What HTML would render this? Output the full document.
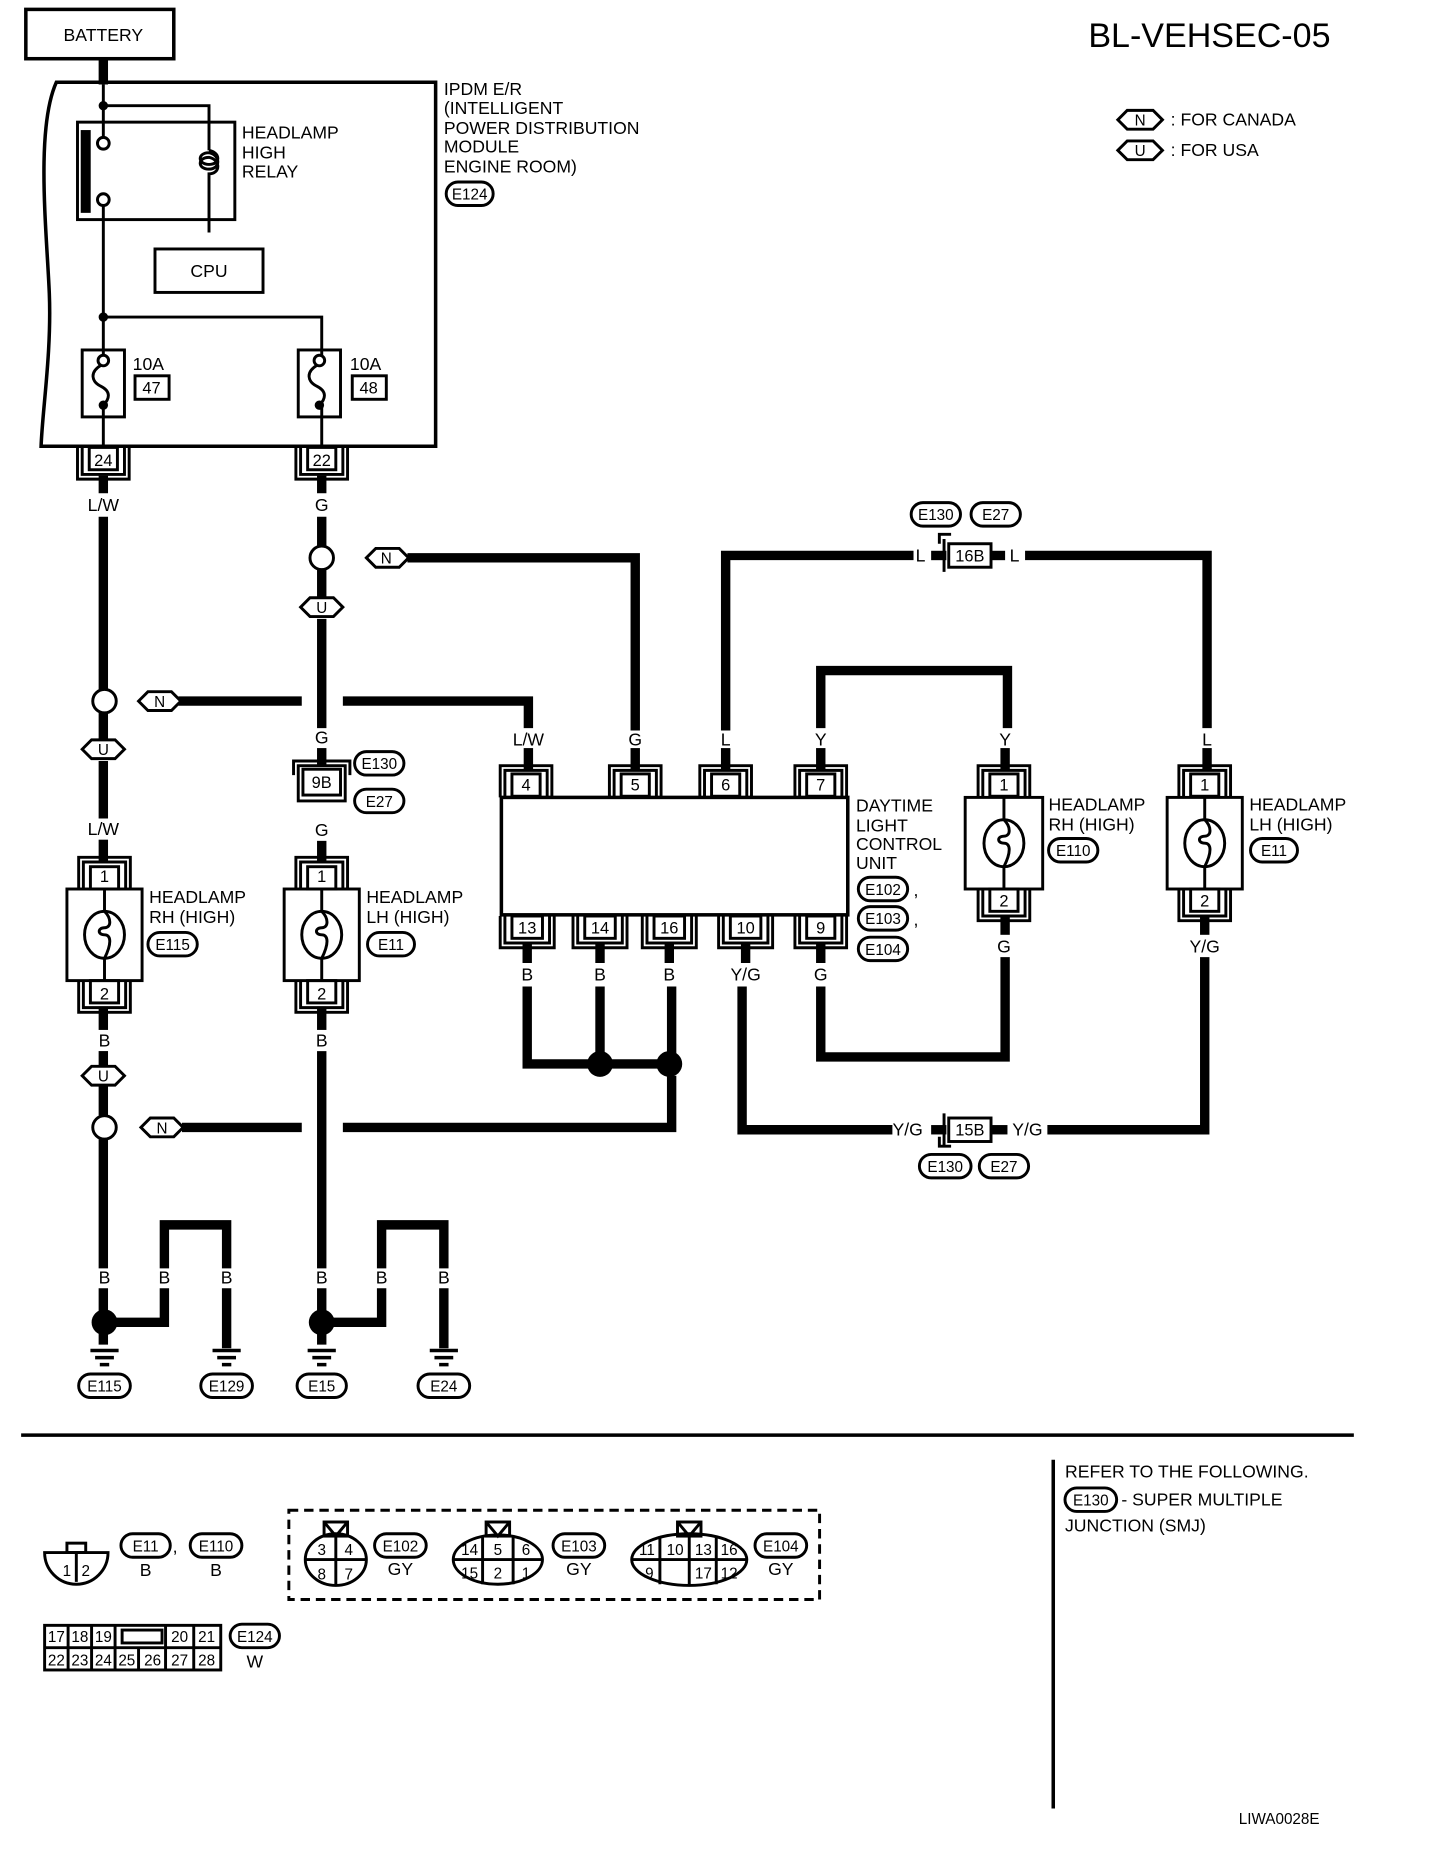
<!DOCTYPE html>
<html><head><meta charset="utf-8"><style>
html,body{margin:0;padding:0;background:#fff;}
svg{display:block;}
text{font-family:"Liberation Sans",sans-serif;fill:#000;}
</style></head><body>
<svg width="1456" height="1852" viewBox="0 0 1240 1577" preserveAspectRatio="none" xmlns="http://www.w3.org/2000/svg">
<g fill="none" stroke="#000">
<!-- battery -->
<rect x="22" y="8" width="126" height="42" stroke-width="3"/>
<line x1="88" y1="50" x2="88" y2="72" stroke-width="8"/>
<!-- IPDM -->
<path d="M371,70 H48 C30,110 40,200 42,250 C44,300 36,350 35,380 H371 Z" stroke-width="3"/>
<g stroke-width="2.5">
<line x1="88" y1="72" x2="88" y2="117"/>
<polyline points="88,90 178,90 178,128"/>
<rect x="66" y="104" width="134" height="83"/>
<rect x="70" y="112" width="6" height="68" fill="#000"/>
<circle cx="88" cy="122" r="5" fill="#fff"/>
<circle cx="88" cy="170" r="5" fill="#fff"/>
<path d="M178,128 c10,2 10,12 0,12 c-10,0 -10,-10 0,-10 c10,2 10,14 0,14 c-10,0 -10,-10 0,-10 c10,2 10,14 0,14 v50"/>
<line x1="88" y1="175" x2="88" y2="303"/>
<rect x="132" y="212" width="92" height="37"/>
<polyline points="88,270 274,270 274,303"/>
<rect x="70" y="298" width="36" height="57"/>
<rect x="254" y="298" width="36" height="57"/>
<circle cx="88" cy="307" r="4.5" fill="#fff"/>
<circle cx="272" cy="307" r="4.5" fill="#fff"/>
<path d="M86,311 c-10,6 -8,14 0,18 c8,4 8,10 2,16"/>
<path d="M270,311 c-10,6 -8,14 0,18 c8,4 8,10 2,16"/>
<line x1="88" y1="345" x2="88" y2="380"/>
<line x1="274" y1="345" x2="274" y2="380"/>
<rect x="115" y="320" width="29" height="20"/>
<rect x="300" y="320" width="29" height="20"/>
</g>
<circle cx="88" cy="90" r="4" fill="#000" stroke="none"/>
<circle cx="88" cy="270" r="4" fill="#000" stroke="none"/>
<circle cx="88" cy="345" r="4" fill="#000" stroke="none"/>
<circle cx="272" cy="345" r="4" fill="#000" stroke="none"/>

<!-- thick wires -->
<g stroke-width="8" stroke-linecap="butt">
<line x1="88" y1="405" x2="88" y2="420"/>
<line x1="88" y1="440" x2="88" y2="587"/>
<line x1="274" y1="405" x2="274" y2="420"/>
<line x1="274" y1="440" x2="274" y2="465"/>
<polyline points="347,475 541,475 541,622"/>
<line x1="274" y1="485" x2="274" y2="508"/>
<line x1="274" y1="527" x2="274" y2="620"/>
<line x1="152" y1="597" x2="257" y2="597"/>
<polyline points="292,597 450,597 450,620"/>
<line x1="88" y1="607" x2="88" y2="630"/>
<line x1="88" y1="648" x2="88" y2="697"/>
<line x1="88" y1="715" x2="88" y2="735"/>
<line x1="274" y1="637" x2="274" y2="652"/>
<line x1="274" y1="716" x2="274" y2="735"/>
<line x1="88" y1="857" x2="88" y2="877"/>
<line x1="88" y1="895" x2="88" y2="908"/>
<line x1="88" y1="925" x2="88" y2="950"/>
<line x1="155" y1="960" x2="257" y2="960"/>
<polyline points="292,960 572,960 572,916"/>
<line x1="88" y1="970" x2="88" y2="1080"/>
<line x1="88" y1="1097" x2="88" y2="1145"/>
<polyline points="88,1126 140,1126 140,1097"/>
<polyline points="140,1080 140,1043 193,1043 193,1080"/>
<line x1="193" y1="1097" x2="193" y2="1148"/>
<line x1="274" y1="857" x2="274" y2="877"/>
<line x1="274" y1="895" x2="274" y2="1080"/>
<line x1="274" y1="1097" x2="274" y2="1145"/>
<polyline points="274,1126 325,1126 325,1097"/>
<polyline points="325,1080 325,1043 378,1043 378,1080"/>
<line x1="378" y1="1097" x2="378" y2="1148"/>
<!-- DLCU -->
<line x1="450" y1="637" x2="450" y2="655"/>
<line x1="541" y1="637" x2="541" y2="655"/>
<line x1="618" y1="637" x2="618" y2="655"/>
<line x1="699" y1="637" x2="699" y2="655"/>
<polyline points="618,622 618,473 778,473"/>
<line x1="793" y1="473" x2="806" y2="473"/>
<line x1="845" y1="473" x2="856" y2="473"/>
<polyline points="873,473 1028,473 1028,620"/>
<polyline points="699,620 699,571 858,571 858,620"/>
<line x1="856" y1="637" x2="856" y2="655"/>
<line x1="1028" y1="637" x2="1028" y2="655"/>
<line x1="449" y1="803" x2="449" y2="820"/>
<line x1="511" y1="803" x2="511" y2="820"/>
<line x1="570" y1="803" x2="570" y2="820"/>
<line x1="635" y1="803" x2="635" y2="820"/>
<line x1="699" y1="803" x2="699" y2="820"/>
<polyline points="449,840 449,906 573,906"/>
<line x1="511" y1="840" x2="511" y2="906"/>
<line x1="572" y1="840" x2="572" y2="906"/>
<polyline points="699,840 699,900 856,900 856,815"/>
<line x1="856" y1="779" x2="856" y2="796"/>
<polyline points="632,840 632,962 760,962"/>
<line x1="793" y1="962" x2="806" y2="962"/>
<line x1="845" y1="962" x2="858" y2="962"/>
<polyline points="892,962 1026,962 1026,815"/>
<line x1="1026" y1="779" x2="1026" y2="796"/>
</g>
<!-- dots -->
<g fill="#000" stroke="none">
<circle cx="511" cy="906" r="11"/><circle cx="570" cy="906" r="11"/>
<circle cx="89" cy="1126" r="11"/><circle cx="274" cy="1126" r="11"/>
</g>
<!-- open circles -->
<g stroke-width="2.5" fill="#fff">
<circle cx="274" cy="475" r="10"/>
<circle cx="89" cy="597" r="10"/>
<circle cx="89" cy="960" r="10"/>
</g>
<!-- ground symbols -->
<g stroke-width="3">
<path d="M77,1150h24M81,1156h16M85,1162h8"/>
<path d="M181,1150h24M185,1156h16M189,1162h8"/>
<path d="M262,1150h24M266,1156h16M270,1162h8"/>
<path d="M366,1150h24M370,1156h16M374,1162h8"/>
</g>
<!-- tags -->
<g stroke-width="2.5" fill="#fff">
<polygon points="312,475 320,467 340,467 348,475 340,483 320,483"/>
<polygon points="256,517 264,509 284,509 292,517 284,525 264,525"/>
<polygon points="118,597 126,589 146,589 154,597 146,605 126,605"/>
<polygon points="70,638 78,630 98,630 106,638 98,646 78,646"/>
<polygon points="70,916 78,908 98,908 106,916 98,924 78,924"/>
<polygon points="120,960 128,952 148,952 156,960 148,968 128,968"/>
<polygon points="952,102 960,94 982,94 990,102 982,110 960,110"/>
<polygon points="952,128 960,120 982,120 990,128 982,136 960,136"/>
</g>
<!-- terminals helper: top-type (bracket opens down) -->
<g stroke-width="2.5">
<!-- IPDM 24,22 (bottom) -->
<rect x="76" y="381" width="24" height="19"/><path d="M70,381v23h36v-23M66,381v27h44v-27"/>
<rect x="262" y="381" width="24" height="19"/><path d="M256,381v23h36v-23M252,381v27h44v-27"/>
<!-- 9B -->
<rect x="258" y="655" width="32" height="22"/><path d="M254,652h40v30h-40zM250,660v-12h48v12"/>
<!-- 16B / 15B -->
<rect x="808" y="463" width="36" height="20"/><path d="M804,459v28M800,463v-8h10"/>
<rect x="808" y="952" width="36" height="20"/><path d="M804,948v28M800,968v8h10"/>
<!-- headlamp left RH -->
<rect x="77" y="738" width="24" height="19"/><path d="M71,757v-23h36v23M67,757v-27h44v27"/>
<rect x="57" y="757" width="64" height="78"/>
<line x1="89" y1="757" x2="89" y2="835"/>
<ellipse cx="89" cy="796" rx="17" ry="20" fill="#fff"/>
<path d="M89,776c6,6 6,14 0,14c-6,0 -6,6 0,6c6,0 6,8 0,20"/>
<rect x="77" y="835" width="24" height="19"/><path d="M71,835v23h36v-23M67,835v27h44v-27"/>
<!-- headlamp left LH -->
<rect x="262" y="738" width="24" height="19"/><path d="M256,757v-23h36v23M252,757v-27h44v27"/>
<rect x="242" y="757" width="64" height="78"/>
<line x1="274" y1="757" x2="274" y2="835"/>
<ellipse cx="274" cy="796" rx="17" ry="20" fill="#fff"/>
<path d="M274,776c6,6 6,14 0,14c-6,0 -6,6 0,6c6,0 6,8 0,20"/>
<rect x="262" y="835" width="24" height="19"/><path d="M256,835v23h36v-23M252,835v27h44v-27"/>
<!-- headlamp right RH -->
<rect x="843" y="659" width="24" height="19"/><path d="M837,679v-23h36v23M833,679v-27h44v27"/>
<rect x="822" y="679" width="66" height="78"/>
<line x1="855" y1="679" x2="855" y2="757"/>
<ellipse cx="855" cy="718" rx="17" ry="20" fill="#fff"/>
<path d="M855,698c6,6 6,14 0,14c-6,0 -6,6 0,6c6,0 6,8 0,20"/>
<rect x="843" y="757" width="24" height="19"/><path d="M837,757v23h36v-23M833,757v27h44v-27"/>
<!-- headlamp right LH -->
<rect x="1014" y="659" width="24" height="19"/><path d="M1008,679v-23h36v23M1004,679v-27h44v27"/>
<rect x="994" y="679" width="64" height="78"/>
<line x1="1026" y1="679" x2="1026" y2="757"/>
<ellipse cx="1026" cy="718" rx="17" ry="20" fill="#fff"/>
<path d="M1026,698c6,6 6,14 0,14c-6,0 -6,6 0,6c6,0 6,8 0,20"/>
<rect x="1014" y="757" width="24" height="19"/><path d="M1008,757v23h36v-23M1004,757v27h44v-27"/>
<!-- DLCU -->
<rect x="427" y="679" width="295" height="100" stroke-width="3"/>
<rect x="436" y="659" width="24" height="19"/><path d="M430,679v-23h36v23M426,679v-27h44v27"/>
<rect x="529" y="659" width="24" height="19"/><path d="M523,679v-23h36v23M519,679v-27h44v27"/>
<rect x="606" y="659" width="24" height="19"/><path d="M600,679v-23h36v23M596,679v-27h44v27"/>
<rect x="687" y="659" width="24" height="19"/><path d="M681,679v-23h36v23M677,679v-27h44v27"/>
<rect x="436" y="780" width="26" height="19"/><path d="M430,780v23h38v-23M426,780v27h46v-27"/>
<rect x="498" y="780" width="26" height="19"/><path d="M492,780v23h38v-23M488,780v27h46v-27"/>
<rect x="557" y="780" width="26" height="19"/><path d="M551,780v23h38v-23M547,780v27h46v-27"/>
<rect x="622" y="780" width="26" height="19"/><path d="M616,780v23h38v-23M612,780v27h46v-27"/>
<rect x="687" y="780" width="24" height="19"/><path d="M681,780v23h36v-23M677,780v27h44v-27"/>
</g>
<!-- ovals -->
<g stroke-width="2.5">
<rect x="380" y="155" width="40" height="20" rx="10"/>
<rect x="776" y="428" width="42" height="20" rx="10"/>
<rect x="827" y="428" width="42" height="20" rx="10"/>
<rect x="302" y="640" width="42" height="20" rx="10"/>
<rect x="302" y="672" width="42" height="20" rx="10"/>
<rect x="126" y="794" width="42" height="20" rx="10"/>
<rect x="313" y="794" width="40" height="20" rx="10"/>
<rect x="893" y="714" width="42" height="20" rx="10"/>
<rect x="1065" y="714" width="40" height="20" rx="10"/>
<rect x="731" y="747" width="42" height="20" rx="10"/>
<rect x="731" y="772" width="42" height="20" rx="10"/>
<rect x="731" y="798" width="42" height="20" rx="10"/>
<rect x="783" y="983" width="44" height="20" rx="10"/>
<rect x="834" y="983" width="42" height="20" rx="10"/>
<rect x="67" y="1170" width="44" height="20" rx="10"/>
<rect x="171" y="1170" width="44" height="20" rx="10"/>
<rect x="253" y="1170" width="42" height="20" rx="10"/>
<rect x="356" y="1170" width="44" height="20" rx="10"/>
<rect x="907" y="1267" width="44" height="20" rx="10"/>
<rect x="103" y="1306" width="42" height="20" rx="10"/>
<rect x="162" y="1306" width="44" height="20" rx="10"/>
<rect x="319" y="1306" width="44" height="20" rx="10"/>
<rect x="471" y="1306" width="44" height="20" rx="10"/>
<rect x="643" y="1306" width="44" height="20" rx="10"/>
<rect x="196" y="1383" width="42" height="20" rx="10"/>
</g>
<!-- separators -->
<line x1="18" y1="1222" x2="1153" y2="1222" stroke-width="3"/>
<line x1="897" y1="1243" x2="897" y2="1540" stroke-width="3"/>
<!-- bottom connectors -->
<g stroke-width="2.5">
<path d="M38,1322h54a27,27 0 0 1 -54,0z"/><line x1="65" y1="1322" x2="65" y2="1347"/>
<rect x="57" y="1314" width="16" height="8"/>
<rect x="246" y="1286" width="452" height="76" stroke-dasharray="8,5"/>
<ellipse cx="286" cy="1328" rx="26" ry="22"/><path d="M260,1328h52M286,1306v44"/><rect x="276" y="1296" width="20" height="12"/><path d="M276,1296l10,12l10,-12"/>
<ellipse cx="424" cy="1328" rx="38" ry="21"/><path d="M386,1328h76M411,1308v41M437,1308v41"/><rect x="414" y="1296" width="20" height="12"/><path d="M414,1296l10,12l10,-12"/>
<ellipse cx="587" cy="1328" rx="49" ry="22"/><path d="M538,1328h98M562,1308v41M587,1308v41M610,1308v41"/><rect x="577" y="1296" width="20" height="12"/><path d="M577,1296l10,12l10,-12"/>
<rect x="38" y="1384" width="150" height="38"/><path d="M38,1403h150M58,1384v38M78,1384v38M98,1384v19M98,1403v19M118,1403v19M141,1384v38M165,1384v38"/>
<rect x="104" y="1388" width="34" height="11"/>
</g>
</g>

<g font-size="15" text-anchor="middle">
<text x="88" y="35">BATTERY</text>
<text x="178" y="236">CPU</text>
<text x="1030" y="40" font-size="29">BL-VEHSEC-05</text>
<text x="971" y="107" font-size="13">N</text>
<text x="971" y="133" font-size="13">U</text>
<text x="329" y="480" font-size="13">N</text>
<text x="274" y="522" font-size="13">U</text>
<text x="136" y="602" font-size="13">N</text>
<text x="88" y="643" font-size="13">U</text>
<text x="88" y="921" font-size="13">U</text>
<text x="138" y="965" font-size="13">N</text>
<text x="88" y="397" font-size="14">24</text>
<text x="274" y="397" font-size="14">22</text>
<text x="129" y="335" font-size="14">47</text>
<text x="314" y="335" font-size="14">48</text>
<text x="88" y="435">L/W</text>
<text x="274" y="435">G</text>
<text x="88" y="711">L/W</text>
<text x="274" y="633">G</text>
<text x="274" y="671" font-size="14">9B</text>
<text x="274" y="712">G</text>
<text x="89" y="751" font-size="14">1</text>
<text x="89" y="851" font-size="14">2</text>
<text x="274" y="751" font-size="14">1</text>
<text x="274" y="851" font-size="14">2</text>
<text x="89" y="891">B</text>
<text x="274" y="891">B</text>
<text x="89" y="1093">B</text><text x="140" y="1093">B</text><text x="193" y="1093">B</text>
<text x="274" y="1093">B</text><text x="325" y="1093">B</text><text x="378" y="1093">B</text>
<text x="450" y="635">L/W</text><text x="541" y="635">G</text><text x="618" y="635">L</text><text x="699" y="635">Y</text>
<text x="856" y="635">Y</text><text x="1028" y="635">L</text>
<text x="448" y="673" font-size="14">4</text><text x="541" y="673" font-size="14">5</text><text x="618" y="673" font-size="14">6</text><text x="699" y="673" font-size="14">7</text>
<text x="449" y="795" font-size="14">13</text><text x="511" y="795" font-size="14">14</text><text x="570" y="795" font-size="14">16</text><text x="635" y="795" font-size="14">10</text><text x="699" y="795" font-size="14">9</text>
<text x="449" y="835">B</text><text x="511" y="835">B</text><text x="570" y="835">B</text><text x="635" y="835">Y/G</text><text x="699" y="835">G</text>
<text x="855" y="673" font-size="14">1</text><text x="855" y="772" font-size="14">2</text>
<text x="1026" y="673" font-size="14">1</text><text x="1026" y="772" font-size="14">2</text>
<text x="855" y="811">G</text><text x="1026" y="811">Y/G</text>
<text x="784" y="478">L</text><text x="864" y="478">L</text>
<text x="826" y="478" font-size="14">16B</text>
<text x="773" y="967">Y/G</text><text x="875" y="967">Y/G</text>
<text x="826" y="967" font-size="14">15B</text>
<g font-size="13">
<text x="400" y="170">E124</text>
<text x="797" y="443">E130</text><text x="848" y="443">E27</text>
<text x="323" y="655">E130</text><text x="323" y="687">E27</text>
<text x="147" y="809">E115</text><text x="333" y="809">E11</text>
<text x="914" y="729">E110</text><text x="1085" y="729">E11</text>
<text x="752" y="762">E102</text><text x="752" y="787">E103</text><text x="752" y="813">E104</text>
<text x="805" y="998">E130</text><text x="855" y="998">E27</text>
<text x="89" y="1185">E115</text><text x="193" y="1185">E129</text><text x="274" y="1185">E15</text><text x="378" y="1185">E24</text>
<text x="929" y="1282">E130</text>
<text x="124" y="1321">E11</text><text x="184" y="1321">E110</text>
<text x="341" y="1321">E102</text><text x="493" y="1321">E103</text><text x="665" y="1321">E104</text>
<text x="217" y="1398">E124</text>
<text x="57" y="1342">1</text><text x="73" y="1342">2</text>
<text x="274" y="1324">3</text><text x="297" y="1324">4</text><text x="274" y="1345">8</text><text x="297" y="1345">7</text>
<text x="400" y="1324">14</text><text x="424" y="1324">5</text><text x="448" y="1324">6</text>
<text x="400" y="1344">15</text><text x="424" y="1344">2</text><text x="448" y="1344">1</text>
<text x="551" y="1324">11</text><text x="575" y="1324">10</text><text x="599" y="1324">13</text><text x="621" y="1324">16</text>
<text x="553" y="1344">9</text><text x="599" y="1344">17</text><text x="621" y="1344">12</text>
<text x="48" y="1398">17</text><text x="68" y="1398">18</text><text x="88" y="1398">19</text><text x="153" y="1398">20</text><text x="176" y="1398">21</text>
<text x="48" y="1418">22</text><text x="68" y="1418">23</text><text x="88" y="1418">24</text><text x="108" y="1418">25</text><text x="130" y="1418">26</text><text x="153" y="1418">27</text><text x="176" y="1418">28</text>
</g>
<text x="124" y="1342">B</text><text x="184" y="1342">B</text>
<text x="341" y="1341">GY</text><text x="493" y="1341">GY</text><text x="665" y="1341">GY</text>
<text x="217" y="1420">W</text>
</g>
<g font-size="15">
<text x="206" y="118">HEADLAMP</text><text x="206" y="135">HIGH</text><text x="206" y="151">RELAY</text>
<text x="113" y="315">10A</text><text x="298" y="315">10A</text>
<text x="378" y="81">IPDM E/R</text><text x="378" y="97">(INTELLIGENT</text><text x="378" y="114">POWER DISTRIBUTION</text><text x="378" y="130">MODULE</text><text x="378" y="147">ENGINE ROOM)</text>
<text x="997" y="107">: FOR CANADA</text><text x="997" y="133">: FOR USA</text>
<text x="127" y="769">HEADLAMP</text><text x="127" y="786">RH (HIGH)</text>
<text x="312" y="769">HEADLAMP</text><text x="312" y="786">LH (HIGH)</text>
<text x="893" y="690">HEADLAMP</text><text x="893" y="707">RH (HIGH)</text>
<text x="1064" y="690">HEADLAMP</text><text x="1064" y="707">LH (HIGH)</text>
<text x="729" y="691">DAYTIME</text><text x="729" y="708">LIGHT</text><text x="729" y="724">CONTROL</text><text x="729" y="740">UNIT</text>
<text x="778" y="763">,</text><text x="778" y="788">,</text>
<text x="147" y="1322">,</text>
<text x="907" y="1258">REFER TO THE FOLLOWING.</text>
<text x="955" y="1282">- SUPER MULTIPLE</text>
<text x="907" y="1304">JUNCTION (SMJ)</text>
<text x="1055" y="1553" font-size="13">LIWA0028E</text>
</g>
</svg>
</body></html>
